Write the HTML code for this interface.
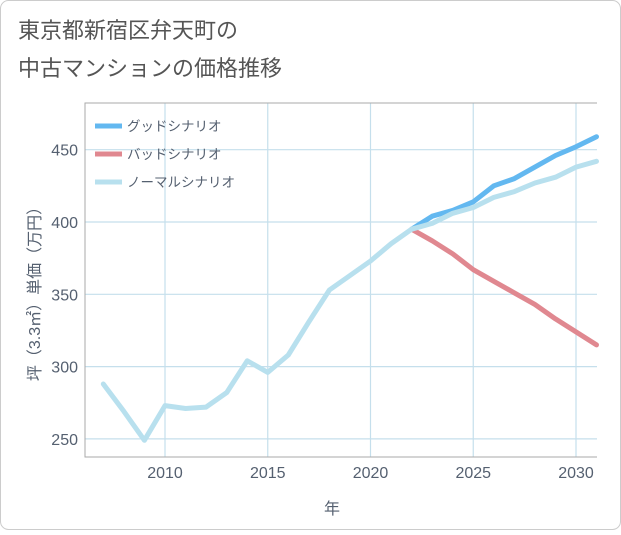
<!DOCTYPE html>
<html><head><meta charset="utf-8"><style>
body{margin:0;background:#fff;}
#wrap{position:relative;width:621px;height:530px;}
svg text{font-family:"Liberation Sans","Noto Sans CJK JP",sans-serif;}
</style></head><body>
<div id="wrap">
<svg id="chart" width="621" height="530">
<rect x="0.5" y="0.5" width="620" height="529" rx="8" fill="#fff" stroke="#ccc"/>
<text x="18" y="38" font-size="22" fill="#555">東京都新宿区弁天町の</text>
<text x="18" y="76" font-size="22" fill="#555">中古マンションの価格推移</text>
<g id="grid"></g><g id="axes"></g><g id="series"></g>
<text x="332" y="514" font-size="16" fill="#556070" text-anchor="middle">年</text>
<text transform="translate(40,290) rotate(-90)" font-size="16" fill="#556070" text-anchor="middle">坪（3.3㎡）単価（万円）</text>
<g id="legend"></g>
</svg></div>
<script>
const years=[2007,2008,2009,2010,2011,2012,2013,2014,2015,2016,2017,2018,2019,2020,2021,2022,2023,2024,2025,2026,2027,2028,2029,2030,2031];
const normalVals=[288,269,249,273,271,272,282,304,296,308,331,353,363,373,385,395,399,406,410,417,421,427,431,438,442];
const goodYears=[2022,2023,2024,2025,2026,2027,2028,2029,2030,2031];
const goodVals=[395,404,408,414,425,430,438,446,452,459];
const badVals=[395,387,378,367,359,351,343,333,324,315];
const xTicks=[2010,2015,2020,2025,2030];
const yTicks=[250,300,350,400,450];
const seriesNames=["グッドシナリオ","バッドシナリオ","ノーマルシナリオ"];
const L=85,R=597,T=103,B=457;
const xs=y=>165+(y-2010)*20.55;
const ys=v=>222-(v-400)*1.446;
const NS="http://www.w3.org/2000/svg";
function mk(tag,attrs,parent){const e=document.createElementNS(NS,tag);for(const k in attrs)e.setAttribute(k,attrs[k]);document.getElementById(parent).appendChild(e);return e;}
xTicks.forEach(t=>{const l=mk('line',{x1:xs(t),x2:xs(t),y1:T,y2:B,stroke:'#c5dfec','stroke-width':1.2},'grid');

const tx=mk('text',{x:xs(t),y:478,'font-size':16,fill:'#556070','text-anchor':'middle'},'axes');tx.textContent=t;
});
yTicks.forEach(t=>{const l=mk('line',{x1:L,x2:R,y1:ys(t),y2:ys(t),stroke:'#c5dfec','stroke-width':1.2},'grid');

const tx=mk('text',{x:78,y:ys(t)+6,'font-size':16,fill:'#556070','text-anchor':'end'},'axes');tx.textContent=t;
});
const ax=mk('path',{d:`M${R},${T}H${L}V${B}H${R}`,fill:'none',stroke:'#aaa','stroke-width':1},'axes');

function line(xv,yv,color,name){const d=xv.map((x,i)=>(i?'L':'M')+xs(x).toFixed(1)+','+ys(yv[i]).toFixed(1)).join('');
const p=mk('path',{d,fill:'none',stroke:color,'stroke-width':5,'stroke-linejoin':'round','stroke-linecap':'round'},'series');
}
line(goodYears,badVals,'#e08890','bad-scenario-line');
line(goodYears,goodVals,'#63b8f0','good-scenario-line');
line(years,normalVals,'#b8e0ee','normal-scenario-line');
const cols=['#63b8f0','#e08890','#b8e0ee'];
seriesNames.forEach((n,i)=>{const y=126+i*28;
const l=mk('line',{x1:95,x2:122,y1:y,y2:y,stroke:cols[i],'stroke-width':5},'legend');

const t=mk('text',{x:127,y:y+5,'font-size':13.5,fill:'#556070'},'legend');t.textContent=n;
});
</script>
</body></html>
